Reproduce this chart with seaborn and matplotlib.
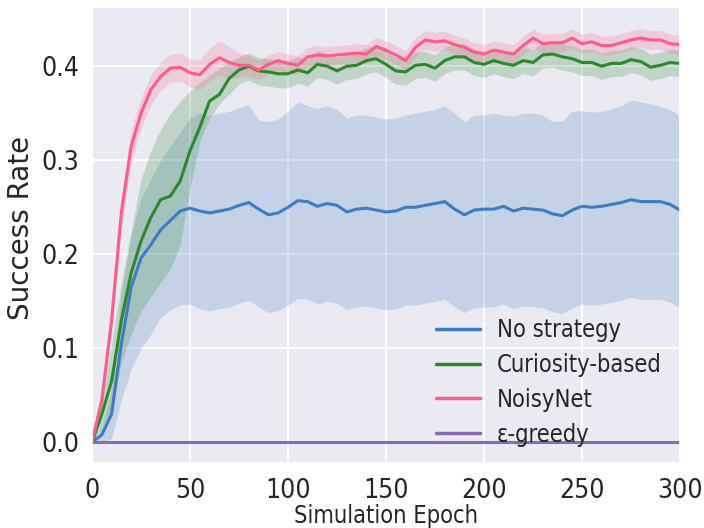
import numpy as np
import pandas as pd
import matplotlib
matplotlib.use("Agg")
import matplotlib.pyplot as plt
import seaborn as sns

# ---------------- data ----------------
epochs = list(range(0, 301, 5))

series_names = ["No strategy", "Curiosity-based", "NoisyNet", "\u03b5-greedy"]
series_colors = ["#3a7dc4", "#2a8a2a", "#ff5a8a", "#8a6ab0"]

no_strategy_mean = [
    0.000, 0.008, 0.030, 0.105, 0.165, 0.196, 0.210, 0.226, 0.236, 0.246,
    0.249, 0.246, 0.244, 0.246, 0.248, 0.252, 0.255, 0.248, 0.242, 0.244,
    0.250, 0.257, 0.256, 0.251, 0.254, 0.252, 0.245, 0.248, 0.249, 0.247,
    0.245, 0.246, 0.250, 0.250, 0.252, 0.254, 0.256, 0.248, 0.242, 0.247,
    0.248, 0.248, 0.251, 0.246, 0.249, 0.248, 0.247, 0.243, 0.241, 0.247,
    0.251, 0.250, 0.251, 0.253, 0.255, 0.258, 0.256, 0.256, 0.256, 0.253,
    0.247]
no_strategy_lo = [
    0.000, 0.000, 0.004, 0.045, 0.078, 0.100, 0.115, 0.133, 0.141, 0.146,
    0.147, 0.142, 0.140, 0.142, 0.144, 0.148, 0.151, 0.144, 0.138, 0.140,
    0.146, 0.153, 0.152, 0.147, 0.150, 0.148, 0.141, 0.144, 0.145, 0.143,
    0.141, 0.142, 0.146, 0.146, 0.148, 0.150, 0.152, 0.144, 0.138, 0.143,
    0.144, 0.144, 0.147, 0.142, 0.145, 0.144, 0.143, 0.139, 0.137, 0.143,
    0.147, 0.146, 0.147, 0.149, 0.151, 0.154, 0.152, 0.152, 0.152, 0.149,
    0.143]
no_strategy_hi = [
    0.000, 0.016, 0.055, 0.160, 0.220, 0.260, 0.280, 0.300, 0.315, 0.330,
    0.345, 0.350, 0.348, 0.350, 0.352, 0.356, 0.359, 0.343, 0.341, 0.344,
    0.352, 0.362, 0.358, 0.355, 0.358, 0.354, 0.345, 0.348, 0.348, 0.346,
    0.344, 0.345, 0.348, 0.350, 0.352, 0.354, 0.358, 0.350, 0.341, 0.348,
    0.348, 0.350, 0.348, 0.347, 0.350, 0.350, 0.348, 0.341, 0.342, 0.352,
    0.353, 0.351, 0.352, 0.355, 0.358, 0.364, 0.362, 0.360, 0.357, 0.354,
    0.347]

curiosity_mean = [
    0.000, 0.030, 0.065, 0.130, 0.180, 0.214, 0.239, 0.258, 0.262, 0.278,
    0.310, 0.335, 0.363, 0.370, 0.387, 0.396, 0.400, 0.395, 0.394, 0.392,
    0.392, 0.396, 0.393, 0.402, 0.400, 0.395, 0.400, 0.401, 0.406, 0.408,
    0.402, 0.395, 0.394, 0.401, 0.402, 0.398, 0.406, 0.410, 0.410, 0.404,
    0.402, 0.406, 0.403, 0.401, 0.406, 0.404, 0.412, 0.413, 0.410, 0.408,
    0.404, 0.404, 0.400, 0.403, 0.403, 0.407, 0.405, 0.399, 0.401, 0.404,
    0.403]
curiosity_lo = [
    0.000, 0.015, 0.035, 0.085, 0.115, 0.140, 0.155, 0.170, 0.185, 0.210,
    0.270, 0.320, 0.345, 0.360, 0.370, 0.381, 0.385, 0.380, 0.379, 0.377,
    0.377, 0.382, 0.379, 0.388, 0.386, 0.381, 0.386, 0.387, 0.392, 0.394,
    0.388, 0.381, 0.380, 0.387, 0.388, 0.384, 0.392, 0.396, 0.396, 0.390,
    0.388, 0.392, 0.389, 0.387, 0.392, 0.390, 0.398, 0.399, 0.396, 0.394,
    0.390, 0.390, 0.386, 0.389, 0.389, 0.393, 0.391, 0.385, 0.387, 0.390,
    0.389]
curiosity_hi = [
    0.000, 0.045, 0.105, 0.170, 0.225, 0.280, 0.310, 0.333, 0.350, 0.363,
    0.374, 0.383, 0.390, 0.398, 0.404, 0.410, 0.414, 0.409, 0.408, 0.406,
    0.406, 0.410, 0.407, 0.416, 0.414, 0.409, 0.414, 0.415, 0.420, 0.422,
    0.416, 0.409, 0.408, 0.415, 0.416, 0.412, 0.420, 0.424, 0.424, 0.418,
    0.416, 0.420, 0.417, 0.415, 0.420, 0.418, 0.426, 0.427, 0.424, 0.422,
    0.418, 0.418, 0.414, 0.417, 0.417, 0.421, 0.419, 0.413, 0.415, 0.418,
    0.417]

noisynet_mean = [
    0.000, 0.045, 0.130, 0.245, 0.315, 0.350, 0.375, 0.389, 0.398, 0.399,
    0.393, 0.391, 0.402, 0.409, 0.404, 0.401, 0.401, 0.396, 0.402, 0.406,
    0.403, 0.401, 0.410, 0.412, 0.411, 0.412, 0.413, 0.414, 0.413, 0.421,
    0.417, 0.412, 0.406, 0.420, 0.428, 0.426, 0.427, 0.423, 0.420, 0.415,
    0.413, 0.417, 0.415, 0.413, 0.422, 0.430, 0.424, 0.425, 0.425, 0.430,
    0.424, 0.426, 0.422, 0.422, 0.425, 0.428, 0.430, 0.428, 0.428, 0.424,
    0.423]
noisynet_lo = [
    0.000, 0.039, 0.118, 0.227, 0.297, 0.334, 0.359, 0.374, 0.383, 0.384,
    0.378, 0.375, 0.385, 0.391, 0.387, 0.388, 0.390, 0.386, 0.392, 0.396,
    0.393, 0.391, 0.400, 0.402, 0.401, 0.402, 0.403, 0.404, 0.403, 0.411,
    0.407, 0.402, 0.396, 0.410, 0.418, 0.416, 0.417, 0.413, 0.410, 0.405,
    0.403, 0.407, 0.405, 0.403, 0.412, 0.420, 0.414, 0.415, 0.415, 0.420,
    0.414, 0.416, 0.412, 0.412, 0.415, 0.418, 0.420, 0.418, 0.418, 0.414,
    0.413]
noisynet_hi = [
    0.000, 0.051, 0.142, 0.263, 0.333, 0.366, 0.391, 0.404, 0.413, 0.414,
    0.408, 0.407, 0.419, 0.427, 0.421, 0.414, 0.412, 0.406, 0.412, 0.416,
    0.413, 0.411, 0.420, 0.422, 0.421, 0.422, 0.423, 0.424, 0.423, 0.431,
    0.427, 0.422, 0.416, 0.430, 0.438, 0.436, 0.437, 0.433, 0.430, 0.425,
    0.423, 0.427, 0.425, 0.423, 0.432, 0.440, 0.434, 0.435, 0.435, 0.440,
    0.434, 0.436, 0.432, 0.432, 0.435, 0.438, 0.440, 0.438, 0.438, 0.434,
    0.433]

egreedy_mean = [0.0] * len(epochs)

x_ticks = [0, 50, 100, 150, 200, 250, 300]
y_ticks = [0.0, 0.1, 0.2, 0.3, 0.4]
x_label = "Simulation Epoch"
y_label = "Success Rate"

# ---------------- styling ----------------
sns.set_theme(style="darkgrid")
plt.rcParams["font.family"] = ["DejaVu Sans"]
plt.rcParams["font.stretch"] = "condensed"

means = [no_strategy_mean, curiosity_mean, noisynet_mean, egreedy_mean]
los = [no_strategy_lo, curiosity_lo, noisynet_lo, None]
his = [no_strategy_hi, curiosity_hi, noisynet_hi, None]

df = pd.concat([
    pd.DataFrame({"epoch": epochs, "rate": m, "strategy": n})
    for m, n in zip(means, series_names)
], ignore_index=True)

fig = plt.figure(figsize=(7.04, 5.28), dpi=100)
ax = fig.add_axes([92 / 704, 65 / 528, 588 / 704, 456 / 528])

for lo, hi, c in zip(los, his, series_colors):
    if lo is not None:
        ax.fill_between(epochs, lo, hi, color=c, alpha=0.22, linewidth=0)

sns.lineplot(data=df, x="epoch", y="rate", hue="strategy",
             hue_order=series_names, palette=series_colors,
             linewidth=2.2, ax=ax, legend=True)

ax.set_xlim(0, 300)
ax.set_ylim(-0.022, 0.463)
ax.set_xticks(x_ticks)
ax.set_yticks(y_ticks)
ax.set_xticklabels([str(v) for v in x_ticks])
ax.set_yticklabels([f"{v:.1f}" for v in y_ticks])
ax.tick_params(axis="both", labelsize=19, colors="#262626")
ax.tick_params(axis="x", pad=5)
ax.tick_params(axis="y", pad=3)
ax.grid(color="white", linewidth=1.4)
ax.set_xlabel(x_label, fontsize=17, color="#262626", labelpad=0)
ax.set_ylabel(y_label, fontsize=20, color="#262626", fontstretch="normal")
ax.yaxis.set_label_coords(-0.097, 0.515)

leg = ax.legend(loc="upper left", bbox_to_anchor=(0.585, 0.318),
                frameon=False, fontsize=17, handlelength=1.86,
                handletextpad=0.72, labelspacing=0.46, borderpad=0,
                borderaxespad=0)
for h in leg.get_lines():
    h.set_linewidth(2.5)

fig.savefig("out.png", dpi=100)
